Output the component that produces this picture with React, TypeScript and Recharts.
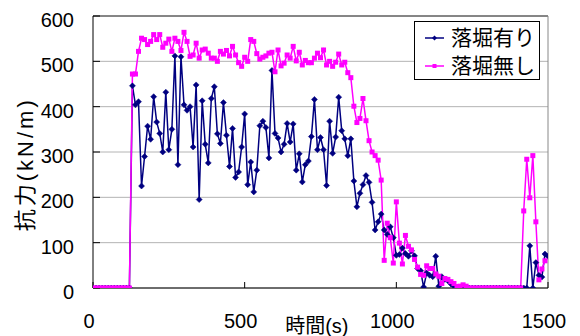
import React from 'react';
import { LineChart, Line, XAxis, YAxis, CartesianGrid, ReferenceLine, Legend } from 'recharts';

// sample times (s)
const TIMES: number[] = [
  0, 10, 20, 30, 40, 50, 60, 70, 80, 90,
  100, 110, 120, 130, 140, 150, 160, 170, 180, 190,
  200, 210, 220, 230, 240, 250, 260, 270, 280, 290,
  300, 310, 320, 330, 340, 350, 360, 370, 380, 390,
  400, 410, 420, 430, 440, 450, 460, 470, 480, 490,
  500, 510, 520, 530, 540, 550, 560, 570, 580, 590,
  600, 610, 620, 630, 640, 650, 660, 670, 680, 690,
  700, 710, 720, 730, 740, 750, 760, 770, 780, 790,
  800, 810, 820, 830, 840, 850, 860, 870, 880, 890,
  900, 910, 920, 930, 940, 950, 960, 970, 980, 990,
  1000, 1010, 1020, 1030, 1040, 1050, 1060, 1070, 1080, 1090,
  1100, 1110, 1120, 1130, 1140, 1150, 1160, 1170, 1180, 1190,
  1200, 1210, 1220, 1230, 1240, 1250, 1260, 1270, 1280, 1290,
  1300, 1310, 1320, 1330, 1340, 1350, 1360, 1370, 1380, 1390,
  1400, 1410, 1420, 1430, 1440, 1450, 1460, 1470, 1480, 1490,
  1500,
];

// 落堀有り (kN/m)
const WITH_DITCH: (number | null)[] = [
  0, 0, 0, 0, 0, 0, 0, 0, 0, 0,
  0, 0, 0, 446, 404, 411, 225, 290, 357, 328,
  422, 366, 341, 300, 432, 305, 350, 512, 272, 510,
  404, 392, 400, 311, 448, 195, 413, 317, 276, 418,
  444, 340, 319, 409, 337, 268, 352, 244, 256, 311,
  384, 228, 278, 212, 260, 358, 368, 354, 287, 480,
  341, 331, 300, 317, 363, 322, 362, 260, 296, 234,
  272, 280, 334, 416, 305, 332, 305, 226, 368, 297,
  333, 421, 347, 329, 292, 329, 236, 179, 209, 228,
  248, 233, 189, 128, 146, 163, 128, 118, 135, 111,
  72, 74, 88, 76, 70, 82, 71, 43, 38, 2,
  33, 28, 25, 70, 4, 25, 19, 16, 9, 4,
  1, 0, 0, 0, 0, 0, 0, 0, 0, 0,
  0, 0, 0, 0, 0, 0, 0, 0, 0, 0,
  0, 0, 0, 0, 93, 0, 56, 28, 24, 75,
  70,
];

// 落堀無し (kN/m)
const WITHOUT_DITCH: (number | null)[] = [
  0, 0, 0, 0, 0, 0, 0, 0, 0, 0,
  0, 0, 0, 472, 472, 522, 551, 548, 537, 544,
  559, 548, 559, 531, 540, 549, 522, 551, 544, 524,
  564, 544, 511, 514, 540, 507, 525, 527, 518, 507,
  507, 500, 522, 516, 524, 512, 533, 514, 497, 489,
  509, 500, 548, 544, 517, 505, 509, 512, 518, 520,
  477, 525, 490, 496, 514, 507, 533, 501, 520, 492,
  502, 497, 497, 507, 518, 508, 525, 492, 500, 489,
  498, 516, 492, 498, 475, 464, 401, 365, 374, 418,
  369, 325, 300, 292, 282, 238, 61, 143, 111, 55,
  190, 99, 53, 116, 92, 84, 63, 46, 30, 28,
  49, 43, 43, 31, 26, 10, 21, 19, 14, 10,
  3, 4, 7, 4, 0, 0, 0, 0, 0, 0,
  0, 0, 0, 0, 0, 0, 0, 0, 0, 0,
  0, 0, 170, 284, 199, 292, 146, 18, 42, 60,
  null,
];

const X_TICKS = [0, 500, 1000, 1500];
const Y_TICKS = [0, 100, 200, 300, 400, 500, 600];
const SERIES_NAMES = ['落堀有り', '落堀無し'];
const X_LABEL = '時間(s)';
const Y_LABEL = '抗力(kN/m)';

const data = TIMES.map((t, i) => ({ t, a: WITH_DITCH[i], b: WITHOUT_DITCH[i] }));

const FONT = "'Liberation Sans', Arial, 'Noto Sans CJK JP', sans-serif";
const NAVY = '#000080';
const PINK = '#FF00FF';

const DiamondDot = (p: any) => {
  const { cx, cy, index } = p;
  if (cx == null || cy == null || p.value == null) return <g key={`d${index}`} />;
  const r = 3;
  return (
    <polygon
      key={`d${index}`}
      points={`${cx},${cy - r} ${cx + r},${cy} ${cx},${cy + r} ${cx - r},${cy}`}
      fill={NAVY}
      stroke={NAVY}
      strokeWidth={0.5}
    />
  );
};

const SquareDot = (p: any) => {
  const { cx, cy, index } = p;
  if (cx == null || cy == null || p.value == null) return <g key={`s${index}`} />;
  const s = 5;
  return <rect key={`s${index}`} x={cx - s / 2} y={cy - s / 2} width={s} height={s} fill={PINK} />;
};

const YTick = (props: any) => {
  const { x, y, payload } = props;
  return (
    <text x={x} y={y + 4} textAnchor="end" dominantBaseline="central" fontSize={20} fontFamily={FONT} fill="#000">
      {payload.value}
    </text>
  );
};

const XTick = (props: any) => {
  const { x, y, payload } = props;
  return (
    <text x={x - 4} y={y + 38} textAnchor="middle" fontSize={20} fontFamily={FONT} fill="#000">
      {payload.value}
    </text>
  );
};

const LegendBox = () => (
  <div
    style={{
      width: 124,
      height: 57,
      border: '1px solid #000',
      background: '#fff',
      fontFamily: FONT,
      fontSize: 21,
      position: 'relative',
      boxSizing: 'content-box',
    }}
  >
    {SERIES_NAMES.map((name, i) => (
      <div
        key={name}
        style={{ position: 'absolute', left: 0, top: i === 0 ? 3 : 31, height: 26, display: 'flex', alignItems: 'center' }}
      >
        <svg width={36} height={26} style={{ display: 'block' }}>
          <line x1={10} y1={13} x2={29} y2={13} stroke={i === 0 ? NAVY : PINK} strokeWidth={1.5} />
          {i === 0 ? (
            <polygon points="19.5,10.5 22,13 19.5,15.5 17,13" fill={NAVY} />
          ) : (
            <rect x={17.5} y={11} width={4} height={4} fill={PINK} />
          )}
        </svg>
        <span style={{ lineHeight: '26px', color: '#000', whiteSpace: 'nowrap' }}>{name}</span>
      </div>
    ))}
  </div>
);

export default function App() {
  return (
    <div style={{ position: 'absolute', left: 0, top: 0, width: 580, height: 336, background: '#fff' }}>
      <LineChart width={580} height={336} data={data} margin={{ top: 16, right: 32, bottom: 18, left: 33 }}>
        <CartesianGrid vertical={false} stroke="#b4b4b4" />
        <XAxis
          dataKey="t"
          type="number"
          domain={[0, 1500]}
          ticks={X_TICKS}
          height={30}
          stroke="#000"
          tickSize={-6}
          tickMargin={8}
          tick={XTick}
          allowDataOverflow
          label={(lp: any) => {
            const vb = lp.viewBox || { x: 93, y: 288, width: 455 };
            return (
              <text x={vb.x + vb.width * 0.492} y={vb.y + 45} textAnchor="middle" fontSize={20} fontFamily={FONT} fill="#000">
                {X_LABEL}
              </text>
            );
          }}
        />
        <YAxis
          type="number"
          domain={[0, 600]}
          ticks={Y_TICKS}
          width={60}
          stroke="#000"
          tickSize={-7}
          tickMargin={26}
          tick={YTick}
          allowDataOverflow
          label={(lp: any) => {
            const vb = lp.viewBox || { x: 33, y: 16, height: 272 };
            const cx = 25;
            const cy = vb.y + vb.height * 0.545;
            return (
              <text
                transform={`translate(${cx},${cy}) rotate(-90)`}
                textAnchor="middle"
                dominantBaseline="central"
                fontSize={22}
                letterSpacing={3}
                fontFamily={FONT}
                fill="#000"
              >
                {Y_LABEL}
              </text>
            );
          }}
        />
        <ReferenceLine y={600} stroke="#333" ifOverflow="extendDomain" />
        <ReferenceLine x={1500} stroke="#888" ifOverflow="extendDomain" />
        <Line
          type="linear"
          dataKey="a"
          name={SERIES_NAMES[0]}
          stroke={NAVY}
          strokeWidth={1.5}
          dot={DiamondDot}
          activeDot={false}
          isAnimationActive={false}
        />
        <Line
          type="linear"
          dataKey="b"
          name={SERIES_NAMES[1]}
          stroke={PINK}
          strokeWidth={1.5}
          dot={SquareDot}
          activeDot={false}
          isAnimationActive={false}
        />
        <Legend
          layout="vertical"
          align="center"
          verticalAlign="middle"
          content={() => <LegendBox />}
          wrapperStyle={{ position: 'absolute', left: 414, top: 21, width: 126, height: 59, margin: 0, padding: 0 }}
        />
      </LineChart>
    </div>
  );
}
